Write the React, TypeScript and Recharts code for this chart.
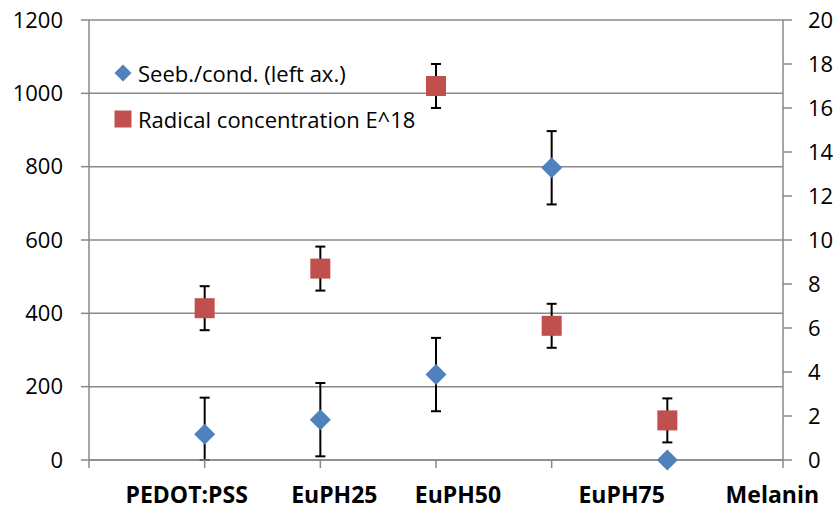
import React from 'react';
import { ScatterChart, Scatter, XAxis, YAxis, CartesianGrid, ErrorBar, Legend } from 'recharts';

const categories = ['PEDOT:PSS', 'EuPH25', 'EuPH50', 'EuPH75', 'Melanin'];
const seriesNames = ['Seeb./cond. (left ax.)', 'Radical concentration E^18'];
const seebValues = [70, 110, 233, 797, 0];
const seebErrors: (number | [number, number])[] = [[70, 100], 100, 100, 100, 0];
const radicalValues = [6.9, 8.7, 17.0, 6.1, 1.8];
const radicalErrors = [1, 1, 1, 1, 1];
const leftTicks = [0, 200, 400, 600, 800, 1000, 1200];
const rightTicks = [0, 2, 4, 6, 8, 10, 12, 14, 16, 18, 20];
const xTicks = [0, 1, 2, 3, 4, 5, 6];

const seebData = categories.map((c, i) => ({ name: c, x: i + 1, y: seebValues[i], err: seebErrors[i] }));
const radicalData = categories.map((c, i) => ({ name: c, x: i + 1, y: radicalValues[i], err: radicalErrors[i] }));

const FONT = '"Open Sans", sans-serif';
const GRID = '#898989';
const BLUE = '#4F81BD';
const RED = '#C0504D';

// horizontal shift of each category label relative to its tick (layout only)
const labelShift = [0, -18, 14, 22, 70, 105, 0];

const XTick = (props: any) => {
  const { x, y, payload } = props;
  const v = payload.value;
  const label = categories[v - 1];
  if (!label) return null;
  return (
    <text x={x + labelShift[v]} y={y} dy="0.71em" textAnchor="middle" fontWeight="bold" fontSize={23} fill="#000" fontFamily={FONT}>
      {label}
    </text>
  );
};

const Diamond = (props: any) => {
  const { cx, cy } = props;
  const r = 10.5;
  return <polygon points={`${cx},${cy - r} ${cx + r},${cy} ${cx},${cy + r} ${cx - r},${cy}`} fill={BLUE} />;
};

const Square = (props: any) => {
  const { cx, cy } = props;
  return <rect x={cx - 10} y={cy - 10} width={20} height={20} fill={RED} />;
};

const LegendContent = (props: any) => {
  const payload = [...(props.payload || [])].sort(
    (a: any, b: any) => seriesNames.indexOf(a.value) - seriesNames.indexOf(b.value)
  );
  return (
    <div style={{ fontFamily: FONT, fontSize: 22, color: '#000' }}>
      {payload.map((p: any, i: number) => {
        const isSeeb = p.value === seriesNames[0];
        return (
          <div key={i} style={{ display: 'flex', alignItems: 'center', height: 46, whiteSpace: 'nowrap' }}>
            <svg width={20} height={20} style={{ display: 'block' }}>
              {isSeeb ? (
                <polygon points="10,1.5 18.5,10 10,18.5 1.5,10" fill={BLUE} />
              ) : (
                <rect x={1.5} y={1.5} width={17} height={17} fill={RED} />
              )}
            </svg>
            <span style={{ marginLeft: 5 }}>{p.value}</span>
          </div>
        );
      })}
    </div>
  );
};

export default function App() {
  return (
    <div style={{ position: 'absolute', left: 0, top: 0, background: '#fff' }}>
      <ScatterChart width={837} height={510} margin={{ top: 20, right: 0, bottom: 0, left: 0 }}>
        <CartesianGrid yAxisId="left" vertical={false} stroke={GRID} strokeWidth={1.5} />
        <XAxis
          type="number"
          dataKey="x"
          domain={[0, 6]}
          ticks={xTicks}
          interval={0}
          height={50}
          tickSize={8}
          tickMargin={19}
          axisLine={{ stroke: GRID, strokeWidth: 1.5 }}
          tickLine={{ stroke: GRID, strokeWidth: 1.5 }}
          tick={<XTick />}
        />
        <YAxis
          yAxisId="left"
          type="number"
          dataKey="y"
          domain={[0, 1200]}
          ticks={leftTicks}
          interval={0}
          width={89}
          tickSize={8}
          tickMargin={18}
          axisLine={{ stroke: GRID, strokeWidth: 1.5 }}
          tickLine={{ stroke: GRID, strokeWidth: 1.5 }}
          tick={{ fill: '#000', fontSize: 22, fontFamily: FONT }}
        />
        <YAxis
          yAxisId="right"
          orientation="right"
          type="number"
          dataKey="y"
          domain={[0, 20]}
          ticks={rightTicks}
          interval={0}
          width={54}
          tickSize={9}
          tickMargin={16}
          axisLine={{ stroke: GRID, strokeWidth: 1.5 }}
          tickLine={{ stroke: GRID, strokeWidth: 1.5 }}
          tick={{ fill: '#000', fontSize: 22, fontFamily: FONT }}
        />
        <Legend
          layout="horizontal"
          verticalAlign="middle"
          align="center"
          content={<LegendContent />}
          wrapperStyle={{ left: 113, top: 50, width: 400, height: 92 }}
        />
        <Scatter name={seriesNames[0]} yAxisId="left" data={seebData} shape={<Diamond />} fill={BLUE} isAnimationActive={false}>
          <ErrorBar dataKey="err" direction="y" width={5} stroke="#000" strokeWidth={2} />
        </Scatter>
        <Scatter name={seriesNames[1]} yAxisId="right" data={radicalData} shape={<Square />} fill={RED} isAnimationActive={false}>
          <ErrorBar dataKey="err" direction="y" width={5} stroke="#000" strokeWidth={2} />
        </Scatter>
      </ScatterChart>
    </div>
  );
}
